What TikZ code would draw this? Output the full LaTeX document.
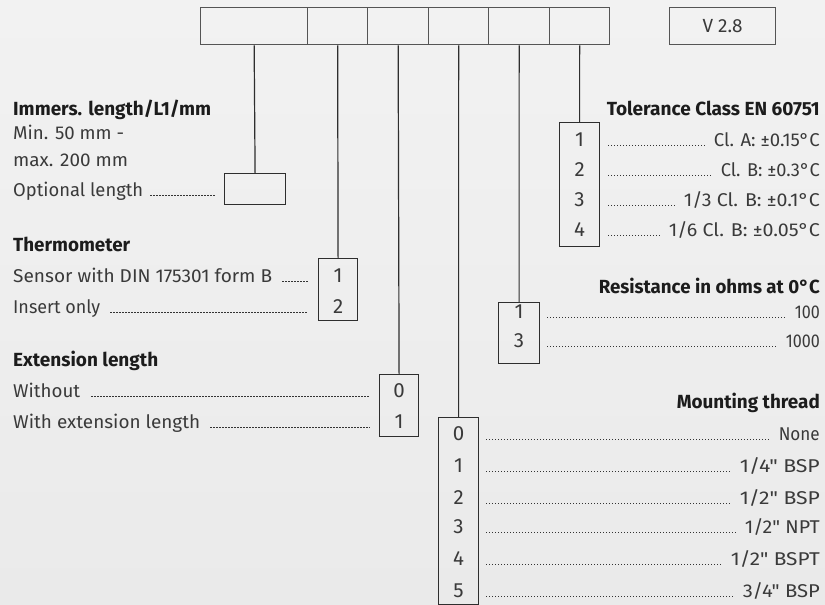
\documentclass[tikz,border=0pt]{standalone}
\usepackage{fontspec}
\usepackage{graphicx}
\setmainfont{Fira Sans}[Ligatures=TeXOff]
\usetikzlibrary{calc}
\definecolor{bgtop}{HTML}{F2F2F2}
\definecolor{bgbot}{HTML}{EAEAEA}
\definecolor{txt}{HTML}{3A3A3A}
\definecolor{dotc}{HTML}{333333}
\definecolor{head}{HTML}{1C1C1C}
\definecolor{boxc}{HTML}{555555}
\definecolor{wire}{HTML}{2E2E2E}
\newsavebox\fitbox
\newcommand\fitw[2]{\sbox\fitbox{#2}\pgfmathsetmacro\fitf{#1/\the\wd\fitbox}\scalebox{\fitf}[1]{\usebox\fitbox}}
\tikzset{
  cell/.style={draw=boxc,line width=1.3pt,minimum height=37pt,inner sep=0pt,anchor=north west},
  optbox/.style={draw=wire,line width=1.2pt,inner sep=0pt,anchor=north west},
  wirel/.style={draw=wire,line width=1.2pt},
  ltxt/.style={inner sep=0pt,anchor=base west,text=txt,font=\fontsize{18.5}{20}\selectfont},
  rtxt/.style={inner sep=0pt,anchor=base east,text=txt,font=\fontsize{18.5}{20}\selectfont},
  lhead/.style={inner sep=0pt,anchor=base west,text=head,font=\fontsize{19}{20}\selectfont\bfseries},
  rhead/.style={inner sep=0pt,anchor=base east,text=head,font=\fontsize{19}{20}\selectfont\bfseries},
  digit/.style={inner sep=0pt,anchor=base,text=txt,font=\fontsize{20.5}{22}\selectfont},
  leader/.style={draw=dotc,line width=1.2pt,dash pattern=on 1.2pt off 1.8pt}
}
\begin{document}
\begin{tikzpicture}[x=1pt,y=-1pt]
\useasboundingbox (0,0) rectangle (825,605);
\shade[top color=bgtop,bottom color=bgbot] (0,0) rectangle (825,605);
% top code row
\node[cell,minimum width=107pt] (c1) at (200,7) {};
\node[cell,minimum width=60pt] (c2) at (307,7) {};
\node[cell,minimum width=61pt] (c3) at (367,7) {};
\node[cell,minimum width=60pt] (c4) at (428,7) {};
\node[cell,minimum width=61pt] (c5) at (488,7) {};
\node[cell,minimum width=60pt] (c6) at (549,7) {};
\node[cell,minimum width=106pt,text=txt,font=\fontsize{19}{20}\selectfont] (ver) at (669,7) {\fitw{40}{V 2.8}};
% option boxes
\node[optbox,minimum width=61pt,minimum height=31pt] (bL) at (224,173) {};
\node[optbox,minimum width=39pt,minimum height=62pt] (bT) at (318,258) {};
\node[optbox,minimum width=39pt,minimum height=62pt] (bE) at (379,374) {};
\node[optbox,minimum width=40pt,minimum height=187pt] (bM) at (438,417) {};
\node[optbox,minimum width=41pt,minimum height=61pt] (bR) at (498,302) {};
\node[optbox,minimum width=40pt,minimum height=124pt] (bC) at (559,122) {};
% connectors
\draw[wirel] (c1.south) -- (bL.north);
\draw[wirel] (c2.south) -- (bT.north);
\draw[wirel] (c3.south) -- (bE.north);
\draw[wirel] (c4.south) -- (bM.north);
\draw[wirel] (c5.south) -- (bR.north);
\draw[wirel] (c6.south) -- (bC.north);
% left: immersion length
\node[lhead] (hL) at (13,115) {\fitw{198}{Immers. length/L1/mm}};
\node[ltxt] (lMin) at (13,139) {\fitw{111}{Min. 50 mm -}};
\node[ltxt] (lMax) at (13,166) {\fitw{115}{max. 200 mm}};
\node[ltxt] (lOpt) at (13,196) {\fitw{130}{Optional length}};
\draw[leader] ($(lOpt.base east)+(7,-0.7)$) -- ($(bL.west |- lOpt.base)+(-9,-0.7)$);
% thermometer
\node[lhead] (hT) at (13,251) {\fitw{117}{Thermometer}};
\node[ltxt] (lS) at (13,282) {\fitw{259}{Sensor with DIN 175301 form B}};
\node[ltxt] (lI) at (13,313) {\fitw{87}{Insert only}};
\node[digit] (dT1) at (bT.center |- lS.base) {1};
\node[digit] (dT2) at (bT.center |- lI.base) {2};
\draw[leader] ($(lS.base east)+(10,-0.7)$) -- ($(bT.west |- lS.base)+(-10,-0.7)$);
\draw[leader] ($(lI.base east)+(10,-0.7)$) -- ($(bT.west |- lI.base)+(-10,-0.7)$);
% extension length
\node[lhead] (hE) at (13,366) {\fitw{145}{Extension length}};
\node[ltxt] (lW) at (13,397) {\fitw{67}{Without}};
\node[ltxt] (lWE) at (13,428) {\fitw{187}{With extension length}};
\node[digit] (dE0) at (bE.center |- lW.base) {0};
\node[digit] (dE1) at (bE.center |- lWE.base) {1};
\draw[leader] ($(lW.base east)+(11,-0.7)$) -- ($(bE.west |- lW.base)+(-9,-0.7)$);
\draw[leader] ($(lWE.base east)+(10,-0.7)$) -- ($(bE.west |- lWE.base)+(-9,-0.7)$);
% tolerance class
\node[rhead] (hC) at (820,115) {\fitw{213}{Tolerance Class EN 60751}};
\node[rtxt] (rC1) at (820,146) {\fitw{106}{Cl. A: ±0.15°C}};
\node[rtxt] (rC2) at (820,176.5) {\fitw{99}{Cl. B: ±0.3°C}};
\node[rtxt] (rC3) at (820,206.5) {\fitw{136}{1/3 Cl. B: ±0.1°C}};
\node[rtxt] (rC4) at (820,236.5) {\fitw{151}{1/6 Cl. B: ±0.05°C}};
\node[digit] (dC1) at (bC.center |- rC1.base) {1};
\node[digit] (dC2) at (bC.center |- rC2.base) {2};
\node[digit] (dC3) at (bC.center |- rC3.base) {3};
\node[digit] (dC4) at (bC.center |- rC4.base) {4};
\foreach \r in {rC1,rC2,rC3,rC4}
  \draw[leader] ($(bC.east |- \r.base)+(8,-0.7)$) -- ($(\r.base west)+(-8,-0.7)$);
% resistance
\node[rhead] (hR) at (820,293) {\fitw{221}{Resistance in ohms at 0°C}};
\node[rtxt] (rR1) at (820,318) {\fitw{25}{100}};
\node[rtxt] (rR3) at (820,347) {\fitw{34}{1000}};
\node[digit] (dR1) at (bR.center |- rR1.base) {1};
\node[digit] (dR3) at (bR.center |- rR3.base) {3};
\foreach \r in {rR1,rR3}
  \draw[leader] ($(bR.east |- \r.base)+(7,-0.7)$) -- ($(\r.base west)+(-8,-0.7)$);
% mounting thread
\node[rhead] (hM) at (820,408) {\fitw{143}{Mounting thread}};
\node[rtxt] (rM0) at (820,440) {\fitw{41}{None}};
\node[rtxt] (rM1) at (820,472) {\fitw{80}{1/4" BSP}};
\node[rtxt] (rM2) at (820,504) {\fitw{80}{1/2" BSP}};
\node[rtxt] (rM3) at (820,533.5) {\fitw{75}{1/2" NPT}};
\node[rtxt] (rM4) at (820,565) {\fitw{89}{1/2" BSPT}};
\node[rtxt] (rM5) at (820,597) {\fitw{77}{3/4" BSP}};
\node[digit] (dM0) at (bM.center |- rM0.base) {0};
\node[digit] (dM1) at (bM.center |- rM1.base) {1};
\node[digit] (dM2) at (bM.center |- rM2.base) {2};
\node[digit] (dM3) at (bM.center |- rM3.base) {3};
\node[digit] (dM4) at (bM.center |- rM4.base) {4};
\node[digit] (dM5) at (bM.center |- rM5.base) {5};
\foreach \r in {rM0,rM1,rM2,rM3,rM4,rM5}
  \draw[leader] ($(bM.east |- \r.base)+(7,-0.7)$) -- ($(\r.base west)+(-8,-0.7)$);
\end{tikzpicture}
\end{document}
